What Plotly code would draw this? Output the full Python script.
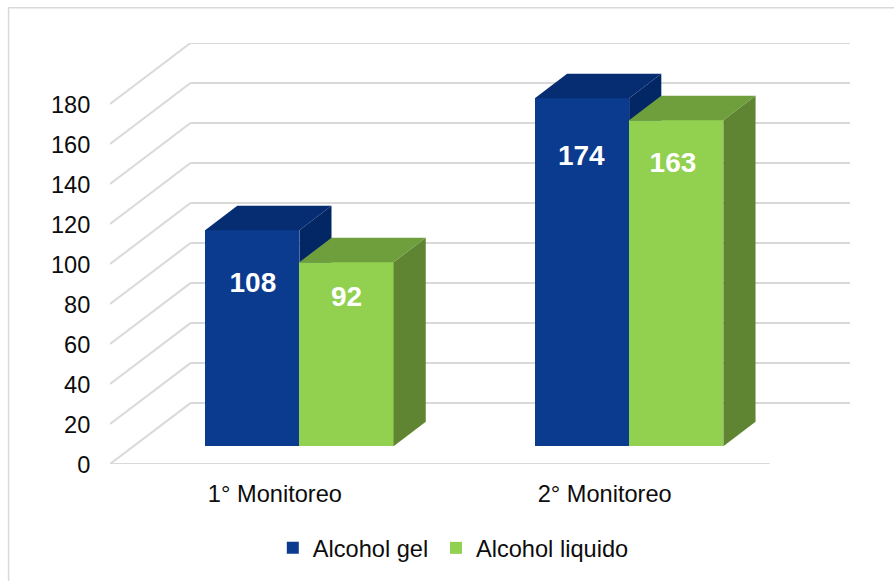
import plotly.graph_objects as go

# ---- data ----
categories = ["1° Monitoreo", "2° Monitoreo"]
series_names = ["Alcohol gel", "Alcohol liquido"]
alcohol_gel = [108, 174]
alcohol_liquido = [92, 163]
y_ticks = [0, 20, 40, 60, 80, 100, 120, 140, 160, 180]

# ---- style / geometry ----
W, H = 894, 581
PLOT_L, PLOT_R = 110, 850.5
PLOT_T, PLOT_B = 42.7, 464.3
CAT_PX = 330.0        # pixels per category
Y_PX = 2.003          # pixels per value unit
DEPTH_X = 80.5 / CAT_PX  # full wall depth, in x axis units
DEPTH_Y = 61 / Y_PX      # full wall depth, in y axis units
BAR_W = 94.3 / CAT_PX
BAR_DEPTH = 0.4       # share of the wall depth
BAR_FRONT_X = 0.304
BAR_FRONT_Y = 0.292
GRID = "#d9d9d9"
FRONT = ["#0a3b8f", "#92d050"]
TOP = ["#062d72", "#6f9e3c"]
SIDE = ["#032764", "#5f8533"]
FONT = "Liberation Sans, Arial, sans-serif"
LABEL_DROP = [[27.2, 18.2], [29.9, 22.4]]   # label centre below bar top, value units
LABEL_SHIFT = [[0.002, 0.0], [-0.002, -0.01]]

x_min = -0.5
x_max = x_min + (PLOT_R - PLOT_L) / CAT_PX
y_max = (PLOT_B - PLOT_T) / Y_PX

fig = go.Figure()
shapes = []


def line(x0, y0, x1, y1, color=GRID, width=2):
    return dict(type="line", xref="x", yref="y", x0=x0, y0=y0, x1=x1, y1=y1,
                line=dict(color=color, width=width), layer="below")


# walls and floor
for t in y_ticks:
    shapes.append(line(x_min, t, x_min + DEPTH_X, t + DEPTH_Y))
    shapes.append(line(x_min + DEPTH_X, t + DEPTH_Y, x_max, t + DEPTH_Y))
shapes.append(line(x_min, 0, x_min + 2, 0))

series = [alcohol_gel, alcohol_liquido]
front_dx = BAR_FRONT_X * DEPTH_X
front_dy = BAR_FRONT_Y * DEPTH_Y
dx = BAR_DEPTH * DEPTH_X
dy = BAR_DEPTH * DEPTH_Y
starts = [-BAR_W, 0]
legend_ids = ["legend", "legend2"]

# front faces
for s, vals in enumerate(series):
    fig.add_trace(go.Bar(
        x=[i + front_dx + starts[s] + BAR_W / 2 for i in range(len(vals))],
        y=vals, base=front_dy, width=BAR_W, name=series_names[s], legend=legend_ids[s],
        marker=dict(color=FRONT[s], line=dict(width=0)), hoverinfo="name+y",
    ))


def face(xs, ys, color):
    fig.add_trace(go.Scatter(x=xs, y=ys, mode="lines", fill="toself", fillcolor=color,
                             line=dict(width=0, color=color), showlegend=False,
                             hoverinfo="skip"))


# top and side faces, first series first so the second overlaps it
for s, vals in enumerate(series):
    for i, v in enumerate(vals):
        x0 = i + front_dx + starts[s]
        x1 = x0 + BAR_W
        top = v + front_dy
        base = front_dy
        if s == 0:
            low = series[1][i] + front_dy
        else:
            low = base
        face([x1, x1 + dx, x1 + dx, x1, x1], [top, top + dy, low + (dy if s else 0), low, top], SIDE[s])
        face([x0, x1, x1 + dx, x0 + dx, x0], [top, top, top + dy, top + dy, top], TOP[s])

# value labels
for s, vals in enumerate(series):
    fig.add_trace(go.Scatter(
        x=[i + front_dx + starts[s] + BAR_W / 2 + LABEL_SHIFT[i][s] for i in range(len(vals))],
        y=[v + front_dy - LABEL_DROP[i][s] for i, v in enumerate(vals)],
        mode="text", text=[str(v) for v in vals], textposition="middle center",
        textfont=dict(family=FONT, size=28, color="white", weight="bold"),
        showlegend=False, hoverinfo="skip",
    ))

# outer frame: only its top and left edges fall inside the picture
frame = dict(type="rect", xref="paper", yref="paper", layer="below",
             x0=(8.5 - PLOT_L) / (PLOT_R - PLOT_L), x1=(W + 10 - PLOT_L) / (PLOT_R - PLOT_L),
             y0=(PLOT_B - (H + 10)) / (PLOT_B - PLOT_T), y1=(PLOT_B - 7.5) / (PLOT_B - PLOT_T),
             line=dict(color=GRID, width=1.5), fillcolor="white")
shapes.insert(0, frame)

legend_common = dict(orientation="h", y=-0.1995, xanchor="left", yanchor="middle",
                     font=dict(size=23.6), bgcolor="rgba(0,0,0,0)")

fig.update_layout(
    width=W, height=H,
    margin=dict(l=PLOT_L, r=W - PLOT_R, t=PLOT_T, b=H - PLOT_B, autoexpand=False),
    paper_bgcolor="white", plot_bgcolor="rgba(0,0,0,0)",
    font=dict(family=FONT, size=23.6, color="#0d0d0d"),
    barmode="overlay", bargap=0, shapes=shapes,
    xaxis=dict(range=[x_min, x_max], tickvals=[0, 1], ticktext=categories, showgrid=False,
               zeroline=False, showline=False, ticks="outside", ticklen=9,
               tickcolor="rgba(0,0,0,0)", tickfont=dict(size=23.6)),
    yaxis=dict(range=[0, y_max], tickvals=y_ticks, showgrid=False, zeroline=False,
               showline=False, ticks="outside", ticklen=14, tickcolor="rgba(0,0,0,0)",
               tickfont=dict(size=23.6), ticklabelshift=1),
    legend=dict(x=0.22, **legend_common),
    legend2=dict(x=0.4405, **legend_common),
)

fig.write_html("out.html", config={"displayModeBar": False},
               post_script="document.body.style.margin='0';window.dispatchEvent(new Event('resize'));")
